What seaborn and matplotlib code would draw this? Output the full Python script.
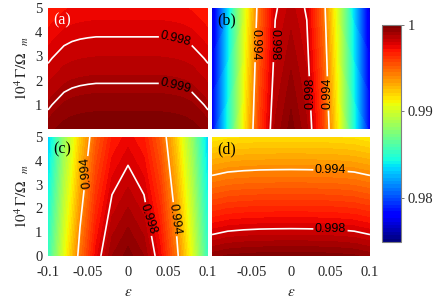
import numpy as np
import matplotlib
matplotlib.use("Agg")
import matplotlib.pyplot as plt
from matplotlib.colors import Normalize
from matplotlib.cm import ScalarMappable
import seaborn as sns

# ---------------- data ----------------
eps_vals = [-0.1, -0.08, -0.06, -0.04, -0.02, 0.0, 0.02, 0.04, 0.06, 0.08, 0.1]
eps_a = [-0.1, -0.095, -0.09, -0.08, -0.07, -0.06, -0.05, -0.04, -0.02, 0.0,
         0.02, 0.04, 0.05, 0.06, 0.07, 0.08, 0.09, 0.095, 0.1]
gamma_vals = [0, 1, 2, 3, 4, 5]

fid_a = [
    [0.99941, 0.99952, 0.99961, 0.99979, 0.99988, 0.99993, 0.99996, 0.99998, 0.99998, 0.99998,
     0.99998, 0.99998, 0.99996, 0.99993, 0.99988, 0.99979, 0.99961, 0.99952, 0.99941],
    [0.99889, 0.99900, 0.99909, 0.99927, 0.99936, 0.99941, 0.99944, 0.99946, 0.99946, 0.99946,
     0.99946, 0.99946, 0.99944, 0.99941, 0.99936, 0.99927, 0.99909, 0.99900, 0.99889],
    [0.99837, 0.99848, 0.99857, 0.99875, 0.99884, 0.99889, 0.99892, 0.99894, 0.99894, 0.99894,
     0.99894, 0.99894, 0.99892, 0.99889, 0.99884, 0.99875, 0.99857, 0.99848, 0.99837],
    [0.99785, 0.99796, 0.99805, 0.99823, 0.99832, 0.99837, 0.99840, 0.99842, 0.99842, 0.99842,
     0.99842, 0.99842, 0.99840, 0.99837, 0.99832, 0.99823, 0.99805, 0.99796, 0.99785],
    [0.99733, 0.99744, 0.99753, 0.99771, 0.99780, 0.99785, 0.99788, 0.99790, 0.99790, 0.99790,
     0.99790, 0.99790, 0.99788, 0.99785, 0.99780, 0.99771, 0.99753, 0.99744, 0.99733],
    [0.99681, 0.99692, 0.99701, 0.99719, 0.99728, 0.99733, 0.99736, 0.99738, 0.99738, 0.99738,
     0.99738, 0.99738, 0.99736, 0.99733, 0.99728, 0.99719, 0.99701, 0.99692, 0.99681],
]
fid_b = [
    [0.97800, 0.98450, 0.99110, 0.99600, 0.99890, 0.99980, 0.99890, 0.99600, 0.99110, 0.98450, 0.97800],
    [0.97776, 0.98426, 0.99086, 0.99576, 0.99870, 0.99956, 0.99870, 0.99576, 0.99086, 0.98426, 0.97776],
    [0.97752, 0.98402, 0.99062, 0.99552, 0.99850, 0.99932, 0.99850, 0.99552, 0.99062, 0.98402, 0.97752],
    [0.97728, 0.98378, 0.99038, 0.99528, 0.99830, 0.99908, 0.99830, 0.99528, 0.99038, 0.98378, 0.97728],
    [0.97704, 0.98354, 0.99014, 0.99504, 0.99810, 0.99884, 0.99810, 0.99504, 0.99014, 0.98354, 0.97704],
    [0.97680, 0.98330, 0.98990, 0.99480, 0.99790, 0.99860, 0.99790, 0.99480, 0.98990, 0.98330, 0.97680],
]
fid_c = [
    [0.98529, 0.99051, 0.99457, 0.99747, 0.99921, 0.99979, 0.99921, 0.99747, 0.99457, 0.99051, 0.98529],
    [0.98482, 0.99004, 0.99410, 0.99700, 0.99874, 0.99932, 0.99874, 0.99700, 0.99410, 0.99004, 0.98482],
    [0.98435, 0.98957, 0.99363, 0.99653, 0.99827, 0.99885, 0.99827, 0.99653, 0.99363, 0.98957, 0.98435],
    [0.98388, 0.98910, 0.99316, 0.99606, 0.99780, 0.99838, 0.99780, 0.99606, 0.99316, 0.98910, 0.98388],
    [0.98341, 0.98863, 0.99269, 0.99559, 0.99733, 0.99791, 0.99733, 0.99559, 0.99269, 0.98863, 0.98341],
    [0.98294, 0.98816, 0.99222, 0.99512, 0.99686, 0.99744, 0.99686, 0.99512, 0.99222, 0.98816, 0.98294],
]
fid_d = [
    [0.99945, 0.99968, 0.99977, 0.99982, 0.99984, 0.99985, 0.99984, 0.99982, 0.99977, 0.99968, 0.99945],
    [0.99784, 0.99807, 0.99816, 0.99821, 0.99823, 0.99824, 0.99823, 0.99821, 0.99816, 0.99807, 0.99784],
    [0.99623, 0.99646, 0.99655, 0.99660, 0.99662, 0.99663, 0.99662, 0.99660, 0.99655, 0.99646, 0.99623],
    [0.99462, 0.99485, 0.99494, 0.99499, 0.99501, 0.99502, 0.99501, 0.99499, 0.99494, 0.99485, 0.99462],
    [0.99301, 0.99324, 0.99333, 0.99338, 0.99340, 0.99341, 0.99340, 0.99338, 0.99333, 0.99324, 0.99301],
    [0.99140, 0.99163, 0.99172, 0.99177, 0.99179, 0.99180, 0.99179, 0.99177, 0.99172, 0.99163, 0.99140],
]

levels_a = [0.998, 0.999]
levels_b = [0.994, 0.998]
levels_c = [0.994, 0.998]
levels_d = [0.994, 0.998]

panel_labels = ["(a)", "(b)", "(c)", "(d)"]
x_ticks = [-0.1, -0.05, 0, 0.05, 0.1]
x_tick_labels = ["-0.1", "-0.05", "0", "0.05", "0.1"]
y_ticks = [0, 1, 2, 3, 4, 5]
y_tick_labels = ["0", "1", "2", "3", "4", "5"]
cbar_ticks = [0.98, 0.99, 1.0]
cbar_tick_labels = ["0.98", "0.99", "1"]

# ---------------- style ----------------
sns.set_theme(style="white")
plt.rcParams["font.family"] = ["Liberation Serif", "DejaVu Serif"]
plt.rcParams["mathtext.fontset"] = "stix"

VMIN, VMAX = 0.9749, 1.0
cmap = matplotlib.colormaps["jet"].resampled(64)
norm = Normalize(VMIN, VMAX)
fill_levels = np.linspace(VMIN, VMAX, 65)

W, H = 436, 303
fig = plt.figure(figsize=(W / 100, H / 100), dpi=100)
fig.patch.set_facecolor("white")

def px_axes(x0, y0, x1, y1):
    return fig.add_axes([x0 / W, 1 - y1 / H, (x1 - x0) / W, (y1 - y0) / H])

ax_a = px_axes(48, 8, 208, 129)
ax_b = px_axes(212, 8, 370, 129)
ax_c = px_axes(48, 137, 208, 256)
ax_d = px_axes(212, 137, 370, 256)
cax = px_axes(382, 25, 401, 242)

panels = [
    (ax_a, eps_a, fid_a, levels_a, [(0.06, 3.75), (0.06, 1.85)], [-14, -14]),
    (ax_b, eps_vals, fid_b, levels_b, [(-0.047, 3.47), (-0.0215, 3.47), (0.022, 1.47), (0.046, 1.47)], [-90, -90, 90, 90]),
    (ax_c, eps_vals, fid_c, levels_c, [(-0.0546, 3.49), (0.0234, 1.54), (0.0566, 1.54)], [95, -72, -82]),
    (ax_d, eps_vals, fid_d, levels_d, [(0.05, 3.55), (0.05, 1.12)], [0, 0]),
]

for i, (ax, ex, Z, lv, pos, rots) in enumerate(panels):
    Zarr = np.array(Z)
    ax.contourf(ex, gamma_vals, Zarr, levels=fill_levels, cmap=cmap, norm=norm, extend="both")
    cs = ax.contour(ex, gamma_vals, Zarr, levels=lv, colors="white", linewidths=1.2)
    fmt = {v: f"{v:.3f}" for v in lv}
    texts = ax.clabel(cs, manual=pos, inline=True, inline_spacing=3, fontsize=9, colors="black", fmt=fmt)
    for t, r in zip(texts, rots):
        t.set_rotation(r)
        t.set_fontfamily(["Liberation Sans", "DejaVu Sans"])
    ax.set_xlim(-0.1, 0.1)
    ax.set_ylim(0, 5)
    sns.despine(ax=ax, left=True, bottom=True)
    ax.tick_params(length=0, labelsize=10.5)
    ax.text(0.035, 0.965, panel_labels[i], transform=ax.transAxes, ha="left", va="top",
            fontsize=11.5, color="white" if i == 0 else "black")

# ticks
for ax in (ax_a, ax_b):
    ax.set_xticks([])
for ax in (ax_b, ax_d):
    ax.set_yticks([])
ax_a.set_yticks(y_ticks[1:])
ax_a.set_yticklabels(y_tick_labels[1:])
ax_c.set_yticks(y_ticks)
ax_c.set_yticklabels(y_tick_labels)
ax_c.set_xticks(x_ticks)
ax_c.set_xticklabels(x_tick_labels)
ax_d.set_xticks(x_ticks[1:])
ax_d.set_xticklabels(x_tick_labels[1:])
for ax in (ax_a, ax_c):
    ax.tick_params(axis="y", pad=4)
    ax.set_ylabel(r"$10^4\,\Gamma/\Omega_{\quad m}$", fontsize=11, labelpad=3)
for ax in (ax_c, ax_d):
    ax.tick_params(axis="x", pad=7)
    ax.set_xlabel(r"$\epsilon$", fontsize=11, labelpad=5)

# colorbar
cb = fig.colorbar(ScalarMappable(norm=norm, cmap=cmap), cax=cax)
cb.set_ticks(cbar_ticks)
cb.set_ticklabels(cbar_tick_labels)
cb.outline.set_edgecolor("#808080")
cb.outline.set_linewidth(0.8)
cax.tick_params(length=2, width=0.6, color="#606060", labelsize=10.5, pad=3)

fig.savefig("out.png", dpi=100)
